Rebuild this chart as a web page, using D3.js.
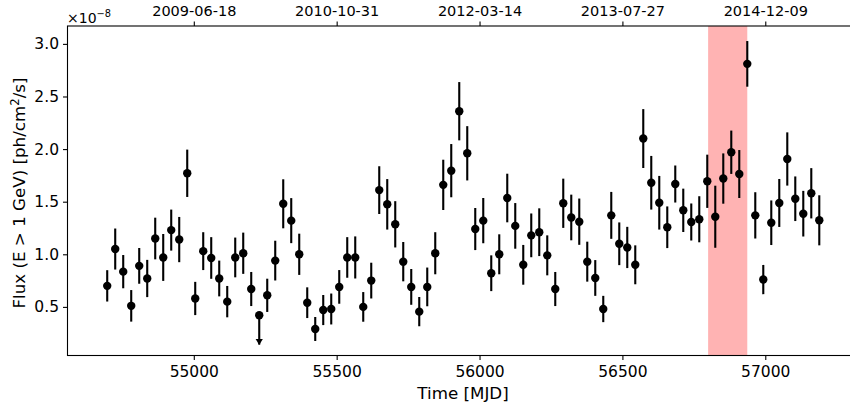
<!DOCTYPE html>
<html>
<head>
<meta charset="utf-8">
<script src="https://cdn.jsdelivr.net/npm/d3@7"></script>
<style>
  html, body { margin: 0; padding: 0; background: #fff; }
  svg { display: block; font-family: "DejaVu Sans", sans-serif; }
</style>
</head>
<body>
<svg id="chart" width="850" height="407"></svg>
<script>
// ---- data ----
const mjd = [
  54697, 54725, 54753, 54781, 54809, 54837, 54865, 54893, 54921, 54949,
  54977, 55005, 55033, 55061, 55089, 55117, 55145, 55173, 55201, 55229,
  55257, 55285, 55313, 55341, 55369, 55397, 55425, 55453, 55481, 55509,
  55537, 55565, 55593, 55621, 55649, 55677, 55705, 55733, 55761, 55789,
  55817, 55845, 55873, 55901, 55929, 55957, 55985, 56013, 56041, 56069,
  56097, 56125, 56153, 56181, 56209, 56237, 56265, 56293, 56321, 56349,
  56377, 56405, 56433, 56461, 56489, 56517, 56545, 56573, 56601, 56629,
  56657, 56685, 56713, 56741, 56769, 56797, 56825, 56853, 56881, 56909,
  56937, 56965, 56993, 57021, 57049, 57077, 57105, 57133, 57161, 57189
];
// flux in units of 1e-8 ph/cm^2/s
const flux = [
  0.70, 1.05, 0.835, 0.51, 0.89, 0.77, 1.15, 0.97, 1.23, 1.14,
  1.77, 0.58, 1.03, 0.965, 0.77, 0.55, 0.97, 1.01, 0.67, 0.42,
  0.61, 0.94, 1.48, 1.32, 1.00, 0.54, 0.29, 0.47, 0.48, 0.69,
  0.97, 0.97, 0.50, 0.75, 1.61, 1.475, 1.285, 0.93, 0.69, 0.455,
  0.69, 1.01, 1.66, 1.795, 2.36, 1.96, 1.24, 1.32, 0.82, 1.00,
  1.535, 1.27, 0.90, 1.18, 1.21, 0.99, 0.67, 1.485, 1.35, 1.31,
  0.93, 0.775, 0.48, 1.37, 1.10, 1.065, 0.90, 2.10, 1.68, 1.49,
  1.257, 1.668, 1.418, 1.307, 1.333, 1.694, 1.357, 1.72, 1.97, 1.763,
  2.81, 1.37, 0.76, 1.30, 1.488, 1.906, 1.528, 1.386, 1.58, 1.323
];
const fluxErr = [
  0.149, 0.195, 0.158, 0.15, 0.17, 0.177, 0.198, 0.223, 0.195, 0.215,
  0.225, 0.158, 0.18, 0.198, 0.17, 0.149, 0.189, 0.196, 0.162, 0.25,
  0.158, 0.189, 0.233, 0.214, 0.196, 0.146, 0.114, 0.143, 0.147, 0.16,
  0.193, 0.2, 0.141, 0.17, 0.227, 0.24, 0.22, 0.187, 0.17, 0.139,
  0.184, 0.2, 0.239, 0.253, 0.277, 0.258, 0.2, 0.215, 0.17, 0.19,
  0.231, 0.217, 0.189, 0.208, 0.227, 0.19, 0.162, 0.234, 0.217, 0.22,
  0.19, 0.17, 0.125, 0.223, 0.203, 0.196, 0.185, 0.28, 0.255, 0.255,
  0.198, 0.176, 0.206, 0.176, 0.219, 0.253, 0.295, 0.239, 0.206, 0.228,
  0.217, 0.22, 0.139, 0.212, 0.228, 0.253, 0.212, 0.217, 0.239, 0.238
];
const upperLimit = [19]; // indices of upper-limit points
const highlightSpan = [56800, 56937];
const xTicks = [55000, 55500, 56000, 56500, 57000];
const xTickLabels = ["55000", "55500", "56000", "56500", "57000"];
const topTickLabels = ["2009-06-18", "2010-10-31", "2012-03-14", "2013-07-27", "2014-12-09"];
const yTicks = [0.5, 1.0, 1.5, 2.0, 2.5, 3.0];
const yTickLabels = ["0.5", "1.0", "1.5", "2.0", "2.5", "3.0"];

// ---- layout ----
const svg = d3.select("#chart");
const L = 67.5, R = 851, T = 26, B = 355.5;
const x = d3.scaleLinear().domain([54558, 57300]).range([L, R]);
const y = d3.scaleLinear().domain([0.038, 3.170]).range([B, T]);
const FS_B = 15.5, FS_T = 14.5, FS_L = 15.5, FS_LAB = 16.7;

// shaded span
svg.append("rect")
  .attr("x", x(highlightSpan[0]))
  .attr("y", T)
  .attr("width", x(highlightSpan[1]) - x(highlightSpan[0]))
  .attr("height", B - T)
  .attr("fill", "#ffb3b3");

// axes
const fmt = (arr) => (d, i) => arr[i];
const axB = d3.axisBottom(x).tickValues(xTicks).tickFormat(fmt(xTickLabels)).tickSize(4.5).tickPadding(6);
const axT = d3.axisTop(x).tickValues(xTicks).tickFormat(fmt(topTickLabels)).tickSize(4.5).tickPadding(6);
const axL = d3.axisLeft(y).tickValues(yTicks).tickFormat(fmt(yTickLabels)).tickSize(4.5).tickPadding(4);

function styleAxis(fs) {
  return g => {
    g.selectAll("path.domain").remove();
    g.selectAll(".tick line").attr("stroke", "#000").attr("stroke-width", 1.1);
    g.selectAll(".tick text").attr("fill", "#000").style("font-size", fs + "px").style("font-family", "DejaVu Sans");
  };
}
svg.append("g").attr("transform", `translate(0,${B})`).call(axB).call(styleAxis(FS_B));
svg.append("g").attr("transform", `translate(0,${T})`).call(axT).call(styleAxis(FS_T));
svg.append("g").attr("transform", `translate(${L},0)`).call(axL).call(styleAxis(FS_L));

// data
const pts = mjd.map((m, i) => ({ m, f: flux[i], e: fluxErr[i], ul: upperLimit.includes(i) }));
const g = svg.append("g");
g.selectAll("line.err").data(pts).join("line")
  .attr("class", "err")
  .attr("x1", d => x(d.m)).attr("x2", d => x(d.m))
  .attr("y1", d => d.ul ? y(d.f) : y(d.f + d.e))
  .attr("y2", d => d.ul ? y(d.f - d.e) + 3 : y(d.f - d.e))
  .attr("stroke", "#000").attr("stroke-width", 2.1);
// upper-limit arrowheads
g.selectAll("path.ul").data(pts.filter(d => d.ul)).join("path")
  .attr("class", "ul")
  .attr("d", d => {
    const cx = x(d.m), ty = y(d.f - d.e);
    return `M${cx - 3.6},${ty - 2.5} L${cx + 3.6},${ty - 2.5} L${cx},${ty + 3.5} Z`;
  })
  .attr("fill", "#000");
g.selectAll("circle").data(pts).join("circle")
  .attr("cx", d => x(d.m)).attr("cy", d => y(d.f)).attr("r", 4.2)
  .attr("fill", "#000");

// spines
svg.append("rect").attr("x", L).attr("y", T).attr("width", R - L).attr("height", B - T)
  .attr("fill", "none").attr("stroke", "#000").attr("stroke-width", 1.1);

// offset text
const off = svg.append("text").attr("x", L - 0.5).attr("y", 22.5)
  .style("font-size", "14px").attr("fill", "#000");
off.append("tspan").text("×10");
off.append("tspan").attr("dy", -5.5).style("font-size", "9.8px").text("−8");

// axis labels
svg.append("text").attr("x", 463).attr("y", 399)
  .attr("text-anchor", "middle").style("font-size", FS_LAB + "px").attr("fill", "#000")
  .text("Time [MJD]");
const yl = svg.append("text")
  .attr("transform", `translate(25,193) rotate(-90)`)
  .attr("text-anchor", "middle").style("font-size", FS_LAB + "px").attr("fill", "#000");
yl.append("tspan").text("Flux (E > 1 GeV) [ph/cm");
yl.append("tspan").attr("dy", -6.5).style("font-size", "11.7px").text("2");
yl.append("tspan").attr("dy", 6.5).text("/s]");
</script>
</body>
</html>
